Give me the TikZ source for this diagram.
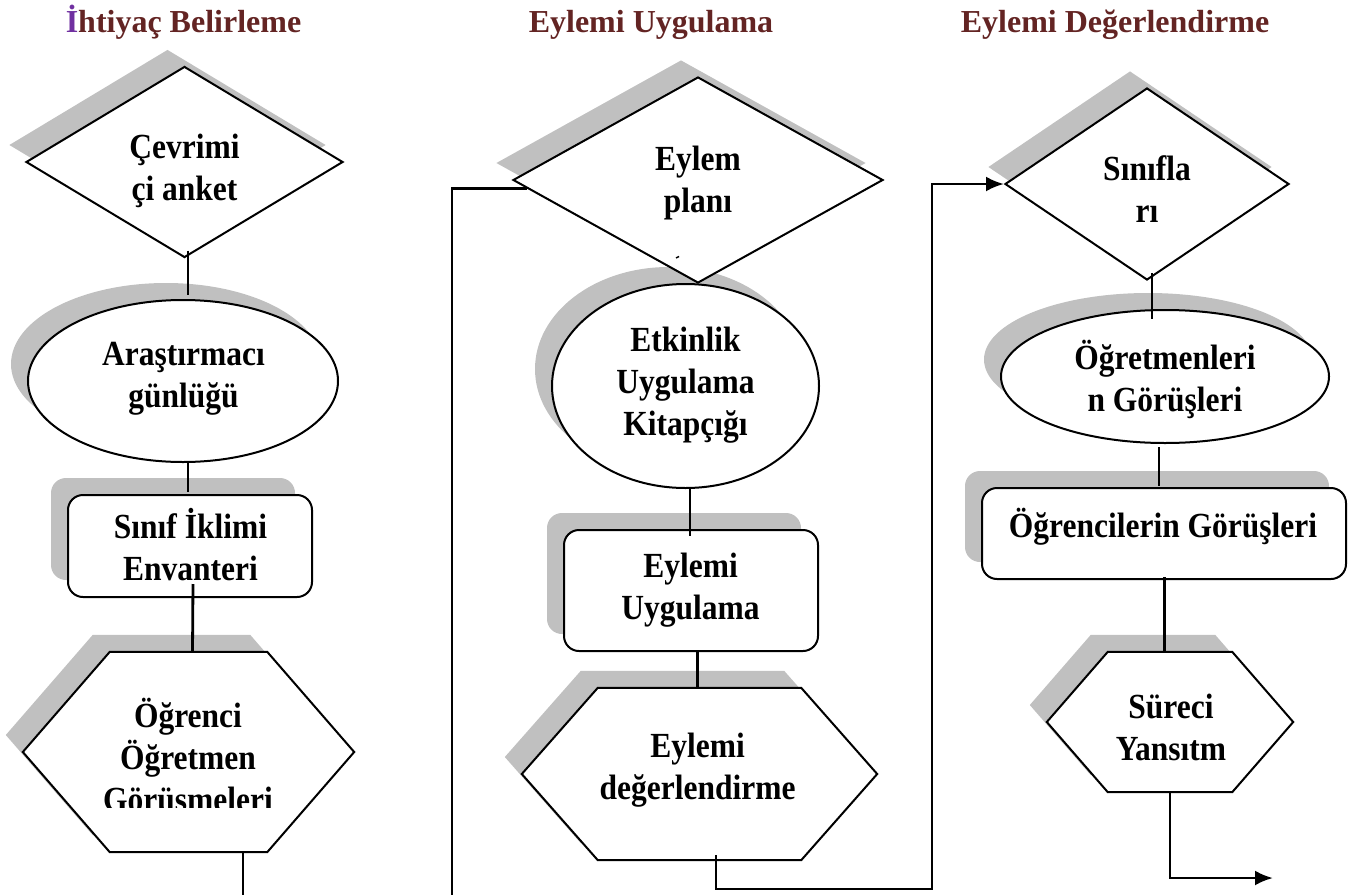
\documentclass[tikz,border=0pt]{standalone}
\usepackage{fontspec}
\usepackage{graphicx}
\setmainfont{Liberation Serif}
\usetikzlibrary{shapes.geometric, shadows, calc, arrows.meta}

\definecolor{shadowgray}{HTML}{C0C0C0}
\definecolor{headred}{HTML}{632423}
\definecolor{headpurple}{HTML}{7030A0}

% one label line: uniform strut, slightly tall lettering
\newcommand{\tl}[1]{\scalebox{1}[1.12]{\rule[-7pt]{0pt}{28pt}#1}}
\newcommand{\headfont}{\fontsize{32}{36}\selectfont\bfseries}
\newcommand{\bodyfont}{\fontsize{31.5}{42}\selectfont\bfseries}

% hexagon drawn over a rectangular frame node: #1 node name, #2 depth of the side points
\newcommand{\hexshape}[2]{%
  \fill[shadowgray]
    ($(#1.west)+(-17,-17)$) -- ($(#1.north west)+(#2-17,-17)$) --
    ($(#1.north east)+(-#2-17,-17)$) -- ($(#1.east)+(-17,-17)$) --
    ($(#1.south east)+(-#2-17,-17)$) -- ($(#1.south west)+(#2-17,-17)$) -- cycle;
  \filldraw[fill=white, draw=black, line width=2pt]
    (#1.west) -- ($(#1.north west)+(#2,0)$) -- ($(#1.north east)+(-#2,0)$) --
    (#1.east) -- ($(#1.south east)+(-#2,0)$) -- ($(#1.south west)+(#2,0)$) -- cycle;
}

\begin{document}
\begin{tikzpicture}[x=1pt, y=-1pt,
  box/.style={draw=black, line width=2pt, fill=white, inner sep=0pt,
    general shadow={fill=shadowgray, shadow xshift=-17pt, shadow yshift=17pt}},
  diam/.style={box, diamond},
  oval/.style={box, ellipse},
  rbox/.style={box, rectangle, rounded corners=15pt},
  hexframe/.style={rectangle, inner sep=0pt},
  lbl/.style={align=center, inner sep=0pt, font=\bodyfont},
  head/.style={anchor=base, inner sep=0pt, font=\headfont},
  conn/.style={draw=black, line width=2.8pt},
  arr/.style={conn, -{Latex[length=18pt, width=15pt]}},
]
\useasboundingbox (0,0) rectangle (1362,894);

% column headings
\node[head] (hd1) at (183.5,32) {\textcolor{headpurple}{İ}\textcolor{headred}{htiyaç Belirleme}};
\node[head] (hd2) at (651,32) {\textcolor{headred}{Eylemi Uygulama}};
\node[head] (hd3) at (1115,32) {\textcolor{headred}{Eylemi Değerlendirme}};

% ellipses
\node[oval, minimum width=310pt, minimum height=162pt] (e1) at (183,381) {};
\node[oval, minimum width=267pt, minimum height=204pt] (e2) at (685.5,386) {};
\node[oval, minimum width=328pt, minimum height=133pt] (e3) at (1165,376.5) {};

% diamonds
\node[diam, minimum width=317pt, minimum height=191pt] (d1) at (184.5,162) {};
\node[diam, minimum width=370pt, minimum height=206pt] (d2) at (698,180) {};
\node[diam, minimum width=284pt, minimum height=192pt] (d3) at (1147,184) {};

% rounded boxes
\node[rbox, minimum width=244pt, minimum height=102pt] (r1) at (190,546) {};
\node[rbox, minimum width=254pt, minimum height=121pt] (r2) at (691,590.5) {};
\node[rbox, minimum width=364pt, minimum height=91pt] (r3) at (1164,533.5) {};

% hexagons
\node[hexframe, minimum width=331pt, minimum height=200pt] (h1) at (188.5,752) {};
\hexshape{h1}{87}
\node[hexframe, minimum width=355pt, minimum height=172pt] (h2) at (699.5,774) {};
\hexshape{h2}{76}
\node[hexframe, minimum width=246pt, minimum height=140pt] (h3) at (1170,722) {};
\hexshape{h3}{61}

% labels
\node[lbl] (t-d1) at (184.5,171) {\tl{Çevrimi}\\\tl{çi anket}};
\node[lbl] (t-e1) at (183.5,379) {\tl{Araştırmacı}\\\tl{günlüğü}};
\begin{scope}
  \clip (r1.north west) rectangle ($(r1.east)+(0,35)$);
  \node[lbl] (t-r1) at (190.5,548) {\tl{Sınıf İklimi}\\\tl{Envanteri}};
\end{scope}
\begin{scope}
  \clip (h1.north west) rectangle ($(h1.east)+(0,55)$);
  \node[lbl] (t-h1) at (188,759) {\tl{Öğrenci}\\\tl{Öğretmen}\\\tl{Görüşmeleri}};
\end{scope}
\node[lbl] (t-d2) at (698,183) {\tl{Eylem}\\\tl{planı}};
\node[lbl] (t-e2) at (685.5,385) {\tl{Etkinlik}\\\tl{Uygulama}\\\tl{Kitapçığı}};
\node[lbl] (t-r2) at (690.5,590) {\tl{Eylemi}\\\tl{Uygulama}};
\node[lbl] (t-h2) at (697.5,770) {\tl{Eylemi}\\\tl{değerlendirme}};
\node[lbl] (t-d3) at (1147,193) {\tl{Sınıfla}\\\tl{rı}};
\node[lbl] (t-e3) at (1165,380) {\tl{Öğretmenleri}\\\tl{n Görüşleri}};
\node[lbl] (t-r3) at (1163,527) {\tl{Öğrencilerin Görüşleri}};
\node[lbl] (t-h3) at (1171,731) {\tl{Süreci}\\\tl{Yansıtm}};

% stray tick inside the action-plan diamond
\draw[line width=1.5pt] ($(d2.south)+(-22,-26)$) -- ++(3,-1.5);

% connectors, first column
\draw[conn] ($(d1.south)+(3.5,-8)$) -- ($(e1.north)+(5,-4)$);
\draw[conn] ($(e1.south)+(5,0)$) -- ($(r1.north)+(-2,-2)$);
\draw[conn] ($(r1.south)+(3,-14)$) -- ($(h1.north)+(4,0)$);
\coordinate (loopL) at (452,930);
\draw[conn] ($(h1.south)+(54.5,0)$) |- (loopL) |- ($(d2.west)!0.08!(d2.south)$);

% connectors, second column
\draw[conn] ($(e2.south)+(4.5,0)$) -- ($(r2.north)+(-1,7)$);
\draw[conn] ($(r2.south)+(6.5,0)$) -- ($(h2.north)+(-2,0)$);
\coordinate (loopR) at (932,889);
\draw[arr] ($(h2.south)+(16.5,-5)$) |- (loopR) |- (d3.west);

% connectors, third column
\draw[conn] ($(d3.south)+(5,-8)$) -- ($(e3.north)+(-13,10)$);
\draw[conn] ($(e3.south)+(-6,3)$) -- ($(r3.north)+(-5,-1)$);
\draw[conn] ($(r3.south)+(0.5,-3)$) -- ($(h3.north)+(-5.5,1)$);
\coordinate (exitR) at (1273,878);
\draw[arr] (h3.south) |- (exitR);
\end{tikzpicture}
\end{document}
